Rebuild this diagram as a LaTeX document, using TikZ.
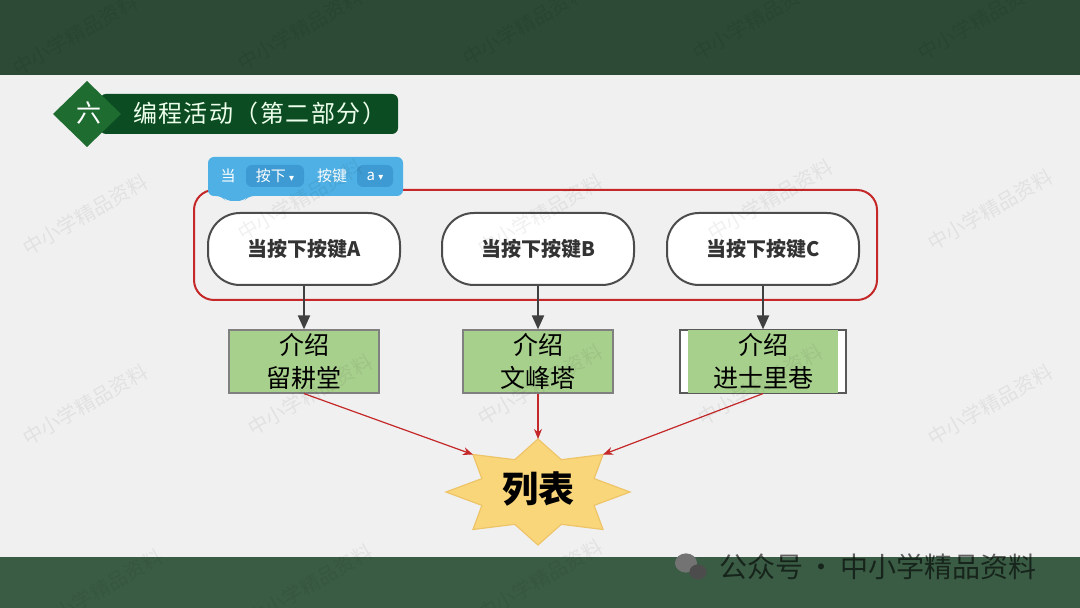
\documentclass[tikz,border=0pt]{standalone}
\usepackage{fontspec}
\setmainfont{Noto Sans CJK SC}
\newfontfamily\symfont{DejaVu Sans}
\newfontfamily\titlefont[LetterSpace=6]{Noto Sans CJK SC}
\usetikzlibrary{arrows.meta}
\definecolor{bandtop}{RGB}{44,74,54}
\definecolor{bandbot}{RGB}{58,92,68}
\definecolor{pagebg}{RGB}{240,240,240}
\definecolor{titlegreen}{RGB}{12,76,34}
\definecolor{diamondgreen}{RGB}{30,108,48}
\definecolor{blockblue}{RGB}{78,176,228}
\definecolor{fieldblue}{RGB}{62,154,210}
\definecolor{frame}{RGB}{196,40,40}
\definecolor{boxgreen}{RGB}{168,208,141}
\definecolor{starfill}{RGB}{250,214,122}
\definecolor{starline}{RGB}{238,196,104}

\begin{document}
\begin{tikzpicture}[x=0.5pt, y=-0.5pt, >=Stealth,
    keynode/.style={draw=black!70, line width=1pt, fill=white, rounded corners=16pt,
      minimum width=96pt, minimum height=36pt, text=black!80,
      font=\fontsize{10}{12}\selectfont\bfseries},
    intronode/.style={draw=black!50, line width=0.6pt, fill=boxgreen, minimum width=75pt,
      minimum height=31.5pt, align=center, inner sep=0pt, font=\fontsize{12.5}{16.5}\selectfont},
    darrow/.style={-{Triangle[width=6pt,length=7pt]}, draw=black!75, line width=1pt},
    redarrow/.style={-{Stealth[length=5pt,width=4pt]}, draw=frame, line width=0.6pt},
    blocktext/.style={text=white, font=\fontsize{7.5}{9}\selectfont, inner sep=1pt},
    watermark/.style={text=black, opacity=0.06, rotate=30, font=\fontsize{10}{12}\selectfont}]

    \useasboundingbox (0,0) rectangle (1080,608);

    % Background and bands
    \fill[pagebg] (0,0) rectangle (1080,608);
    \fill[bandtop] (0,0) rectangle (1080,75);
    \fill[bandbot] (0,557) rectangle (1080,608);

    % Title
    \fill[titlegreen, rounded corners=3pt] (100,94) rectangle (398,134);
    \fill[diamondgreen] (53,114) -- (87,81) -- (121,114) -- (87,147) -- cycle;
    \node[text=white, font=\fontsize{12.5}{14}\selectfont] (num) at (89,113) {六};
    \node[anchor=west, text=white!92!green, font=\titlefont\fontsize{12}{14}\selectfont] (title) at (126,113) {编程活动（第二部分）};

    % Red frame around the events
    \draw[frame, line width=1pt, rounded corners=10pt] (194,190) rectangle (877,300);

    % Scratch block
    \fill[blockblue, rounded corners=3pt] (208,157) -- (403,157) -- (403,196) -- (248,196)
        -- (244,201) -- (226,201) -- (222,196) -- (208,196) -- cycle;
    \node[blocktext] (when) at (228,176) {当};
    \node[blocktext, fill=fieldblue, rounded corners=3pt, minimum height=11pt, minimum width=29pt]
        (press) at (275,176) {按下 {\symfont\fontsize{5}{6}\selectfont ▾}};
    \node[blocktext] (keyword) at (332,176) {按键};
    \node[blocktext, fill=fieldblue, rounded corners=3pt, minimum height=11pt, minimum width=18pt]
        (keyval) at (375,176) {a {\symfont\fontsize{5}{6}\selectfont ▾}};

    % Key events
    \node[keynode] (keyA) at (304,249) {当按下按键A};
    \node[keynode] (keyB) at (538,249) {当按下按键B};
    \node[keynode] (keyC) at (763,249) {当按下按键C};

    % Introductions
    \node[intronode] (introA) at (304,361.5) {介绍\\留耕堂};
    \node[intronode] (introB) at (538,361.5) {介绍\\文峰塔};
    \draw[black!65, line width=1pt, fill=white] (680,330) rectangle (846,393);
    \node[intronode, draw=none] (introC) at (763,361.5) {介绍\\进士里巷};

    \draw[darrow] (keyA) -- (introA);
    \draw[darrow] (keyB) -- (introB);
    \draw[darrow] (keyC) -- (introC);

    % Star
    \foreach \k in {0,...,15} {
        \pgfmathsetmacro\r{isodd(\k) ? 0.66 : 1}
        \coordinate (s\k) at ({538+92*\r*cos(90+22.5*\k)}, {492-53*\r*sin(90+22.5*\k)});
    }
    \filldraw[fill=starfill, draw=starline, line width=0.6pt]
        (s0) \foreach \k in {1,...,15} { -- (s\k) } -- cycle;
    \node[font=\fontsize{18}{20}\selectfont\bfseries] (list) at (538,489) {列表};

    \draw[redarrow] (introA.south) -- (s2);
    \draw[redarrow] (introB.south) -- (s0);
    \draw[redarrow] (introC.south) -- (s14);

    % Watermarks
    \foreach \x/\y [count=\i] in {75/35, 300/30, 525/25, 755/20, 980/20,
        85/215, 300/200, 540/215, 770/200, 990/210,
        85/405, 310/395, 540/385, 760/385, 990/405,
        100/590, 310/585, 540/580}
        \node[watermark] (wm\i) at (\x,\y) {中小学精品资料};

    % Footer
    \fill[black!55] (686,563) ellipse [x radius=5.5pt, y radius=4.8pt];
    \fill[black!70] (698,572) ellipse [x radius=4.3pt, y radius=3.8pt];
    \node[anchor=west, text=black, opacity=0.6, font=\fontsize{14}{17}\selectfont] (footer) at (712,567)
        {公众号\,·\,中小学精品资料};
\end{tikzpicture}
\end{document}
